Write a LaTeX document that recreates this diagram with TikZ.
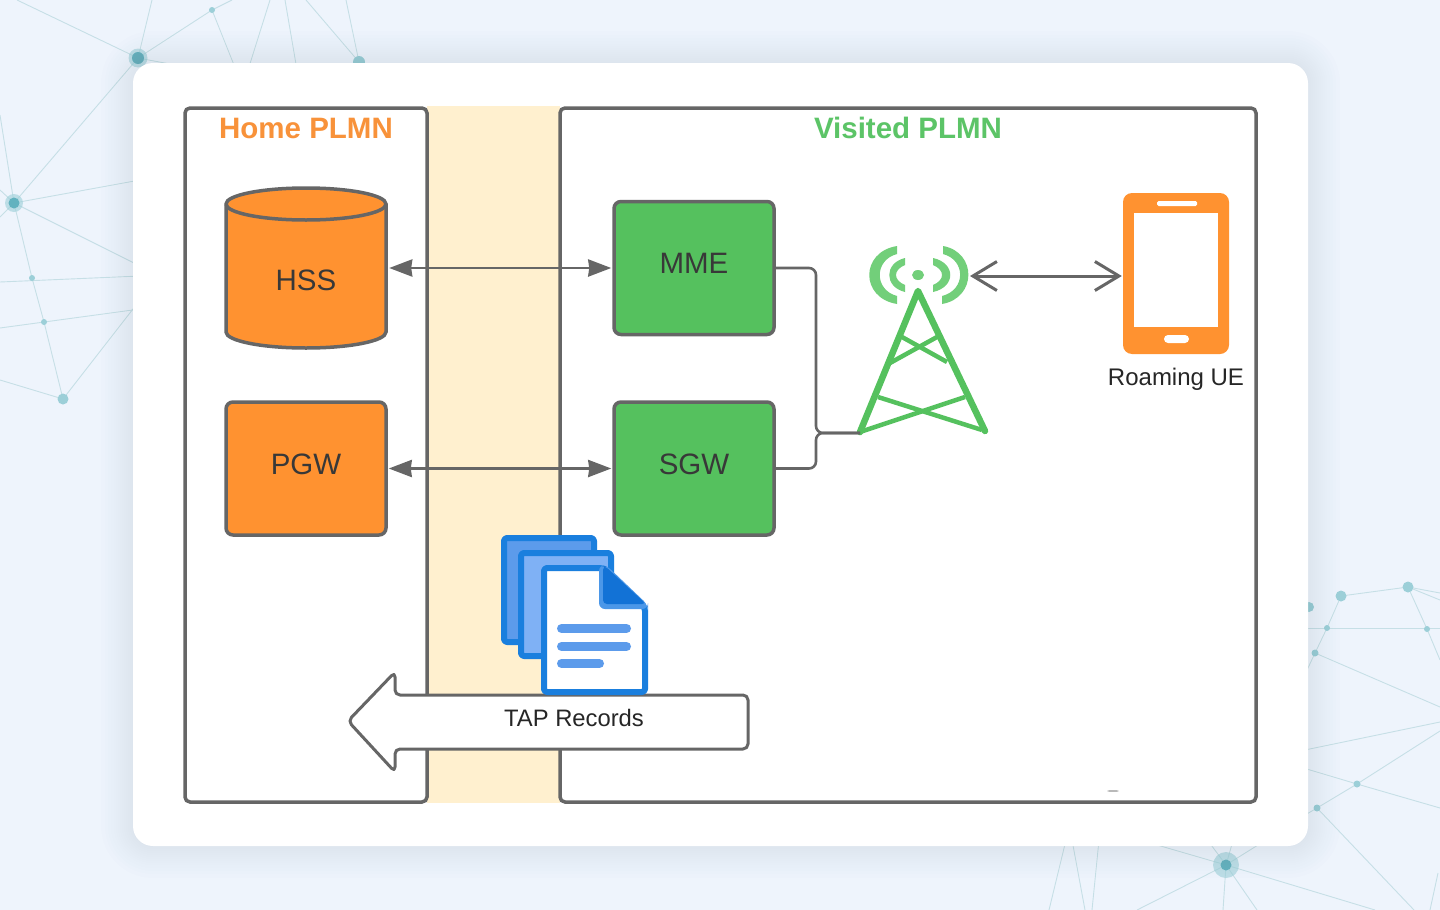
\documentclass[tikz,border=0pt]{standalone}
\usepackage{fontspec}
\setmainfont{Liberation Sans}
\usetikzlibrary{arrows.meta,shapes.geometric}
\definecolor{pagebg}{HTML}{EEF4FC}
\definecolor{meshline}{HTML}{C6DFE6}
\definecolor{meshdot}{HTML}{9CCFD8}
\definecolor{meshcore}{HTML}{62B2BF}
\definecolor{edge}{HTML}{666666}
\definecolor{ink}{HTML}{383838}
\definecolor{orangefill}{HTML}{FF9230}
\definecolor{orangetext}{HTML}{F8923A}
\definecolor{greenfill}{HTML}{55C15E}
\definecolor{greentext}{HTML}{5CC467}
\definecolor{signal}{HTML}{72CF7A}
\definecolor{band}{HTML}{FFF0CF}
\definecolor{docedge}{HTML}{1A7FDE}
\definecolor{docback}{HTML}{5C9BEB}
\definecolor{docmid}{HTML}{7FB1F5}
\definecolor{docfold}{HTML}{1272D6}
\definecolor{docfoldrim}{HTML}{4B97E8}
\definecolor{cardshade}{HTML}{6A7488}
\tikzset{
  mesh/.style={draw=meshline,line width=0.9pt},
  plmn/.style={draw=edge,line width=3.5pt,rounded corners=5pt},
  title/.style={font=\bfseries\fontsize{29.5}{32}\selectfont,anchor=center},
  unitbox/.style={draw=edge,line width=3.5pt,rounded corners=7pt,minimum width=160pt,minimum height=133pt,
    inner sep=0pt,text=ink,font=\fontsize{29.5}{32}\selectfont},
  caption/.style={text=black!85,font=\fontsize{24}{28}\selectfont,inner sep=0pt},
  link/.style={draw=edge,line width=2.8pt,{Stealth[length=23pt,width=17pt,inset=1pt]}-{Stealth[length=23pt,width=17pt,inset=1pt]}},
  wire/.style={draw=edge,line width=2.6pt,rounded corners=7pt},
  radio/.style={draw=edge,line width=3pt,{Straight Barb[length=24pt,width=29pt]}-{Straight Barb[length=24pt,width=29pt]}},
  mast/.style={draw=greenfill,line width=6.5pt,line cap=round,line join=round},
  brace/.style={draw=greenfill,line width=4.5pt},
  sheet/.style={draw=docedge,line width=6pt,rounded corners=3pt,line join=round},
  docline/.style={draw=docback,line width=9pt,line cap=round}
}
\begin{document}
\begin{tikzpicture}[x=1pt,y=-1pt]
\useasboundingbox (0,0) rectangle (1440,910);
\fill[pagebg] (0,0) rectangle (1440,910);

% mesh decoration, upper left
\foreach \ax/\ay/\bx/\by in {
  17/0/138/58, 152/0/138/58, 138/58/212/10, 212/10/232/0, 212/10/236/70, 138/58/170/64,
  138/58/14/203, 14/203/0/115, 14/203/140/180, 14/203/140/266, 14/203/0/190, 14/203/0/217,
  14/203/32/278, 32/278/44/322, 44/322/63/399, 0/282/140/276, 0/328/140/309, 63/399/140/300,
  63/399/0/380, 270/0/248/70, 285/0/297/70, 306/0/359/62, 346/0/359/62}
  {\draw[mesh] (\ax,\ay) -- (\bx,\by);}
% mesh decoration, lower right
\foreach \ax/\ay/\bx/\by in {
  1341/596/1408/587, 1408/587/1440/600, 1408/587/1440/593, 1408/587/1427/629, 1427/629/1440/660,
  1341/596/1327/628, 1327/628/1315/653, 1315/653/1300/685, 1300/628/1440/628, 1315/653/1440/707,
  1300/751/1440/722, 1300/767/1357/784, 1357/784/1440/808, 1357/784/1440/731, 1357/784/1317/808,
  1317/808/1300/818, 1317/808/1414/910, 1226/865/1140/840, 1226/865/1200/830, 1226/865/1236/830,
  1226/865/1266/840, 1226/865/1137/910, 1226/865/1223/910, 1226/865/1257/910, 1226/865/1375/910,
  1066/840/1049/910, 1072/840/1085/910, 1099/840/1092/910, 1438/873/1430/910}
  {\draw[mesh] (\ax,\ay) -- (\bx,\by);}

% mesh dots: large hubs
\foreach \x/\y/\r/\c in {138/58/9.5/6, 14/203/9/5.5, 1226/865/13/5.5}{
  \fill[meshdot,opacity=.6] (\x,\y) circle (\r);
  \fill[meshcore] (\x,\y) circle (\c);
}
% mesh dots: plain
\foreach \x/\y/\r in {212/10/3, 359/62/6, 32/278/3, 44/322/3, 63/399/5.5, 1341/596/5.5, 1408/587/5.5,
  1327/628/3, 1427/629/3, 1315/653/3.5, 1357/784/3.5, 1317/808/3.5, 1309/607/5}{
  \fill[meshdot] (\x,\y) circle (\r);
}

% soft shadow under the card, densest next to its edge
\foreach \d in {32,28,25,22,19,17,15,13,11,9,7,5,3,1}{
  \fill[cardshade,opacity=.008,rounded corners=20pt+\d*1pt]
    (133-\d,63-\d) rectangle (1308+\d,846+\d);
}
% card
\fill[white,rounded corners=20pt] (133,63) rectangle (1308,846);

% interconnect band and the two networks
\fill[band] (427,106) rectangle (560,803);
\draw[plmn] (185,108) rectangle (427,802);
\draw[plmn] (560,108) rectangle (1256,802);
\node[title,text=orangetext] (hometitle) at (306,128) {Home PLMN};
\node[title,text=greentext] (visitedtitle) at (908,128) {Visited PLMN};

% HSS database
\draw[fill=orangefill,draw=edge,line width=3.5pt]
  (226,204) -- (226,332) arc[start angle=180,end angle=0,x radius=80,y radius=16]
  -- (386,204) arc[start angle=0,end angle=-180,x radius=80,y radius=16] -- cycle;
\draw[draw=edge,line width=3.5pt] (226,204) arc[start angle=180,end angle=0,x radius=80,y radius=16];
\node[minimum width=162pt,minimum height=160pt,inner sep=0pt] (hss) at (306,268) {};
\node[inner sep=0pt,text=ink,font=\fontsize{29.5}{32}\selectfont] (hsslabel) at (306,280) {HSS};

% core elements
\node[unitbox,fill=orangefill] (pgw) at (306,468.5) {\raisebox{9pt}{PGW}};
\node[unitbox,fill=greenfill] (mme) at (694,268) {\raisebox{9pt}{MME}};
\node[unitbox,fill=greenfill] (sgw) at (694,468.5) {\raisebox{9pt}{SGW}};

% roaming links across the band
\draw[link] ([xshift=2pt]hss.east) -- ([xshift=-1pt]mme.west);
\draw[link] ([xshift=1pt]pgw.east) -- ([xshift=-1pt]sgw.west);

% radio tower
\coordinate (apex) at (918,291);
\coordinate (footl) at (860,432);
\coordinate (footr) at (985,431);
\coordinate (bus) at (816,433);
\coordinate (antenna) at (970,276);
\draw[mast] (footl) -- (apex) -- (footr);
\draw[brace] (902,337) -- (947,362);
\draw[brace] (937,337) -- (890,363);
\draw[brace] (878,397) -- (982,430);
\draw[brace] (965,397) -- (860,432);
\fill[signal] (918,275) ellipse (6 and 5);
\fill[signal] (897,246) .. controls (860,252) and (860,298) .. (897,304)
  -- (897,296) .. controls (874,290) and (874,260) .. (897,254) -- cycle;
\fill[signal] (905,258) .. controls (884,263) and (884,287) .. (905,292)
  -- (905,285) .. controls (893,280) and (893,270) .. (905,265) -- cycle;
\fill[signal] (943,246) .. controls (977,252) and (977,298) .. (942,304)
  -- (942,296) .. controls (966,290) and (966,260) .. (943,254) -- cycle;
\fill[signal] (933,258) .. controls (956,263) and (956,287) .. (933,292)
  -- (933,285) .. controls (945,280) and (945,270) .. (933,265) -- cycle;

% backhaul from MME and SGW to the tower
\draw[wire] (mme.east) -| (bus) -- (footl |- bus);
\draw[wire] (sgw.east) -| (bus) -- (footl |- bus);

% handset
\node[fill=orangefill,rounded corners=9pt,minimum width=106pt,minimum height=161pt,inner sep=0pt] (phone) at (1176,273.5) {};
\fill[white] (1134,213) rectangle (1218,327);
\fill[white,rounded corners=1.5pt] (1157,201) rectangle (1197,206);
\fill[white,rounded corners=4pt] (1164,335) rectangle (1189,343);
\node[caption] (ue) at (1176,379) {Roaming UE};
\draw[radio] (antenna) -- ([xshift=-1pt]phone.west |- antenna);

% TAP record transfer arrow
\node[inner sep=0pt,minimum size=0pt] (tapanchor) at (574,718) {};
\draw[draw=edge,fill=white,line width=3pt,rounded corners=5pt,line join=round]
  (748,695) -- (395,695) -- (395,672) -- (348,721) -- (395,772) -- (395,749) -- (748,749) -- cycle;
\node[text=black!85,font=\fontsize{23.8}{26}\selectfont,inner sep=0pt] (tap) at (tapanchor) {TAP Records};

% stack of record sheets
\draw[sheet,fill=docback] (504,538) rectangle (594,642);
\draw[sheet,fill=docmid] (521,553) rectangle (611,656);
\draw[sheet,fill=white] (544,568) -- (603,568) -- (645,608) -- (645,692) -- (544,692) -- cycle;
\fill[docfoldrim,rounded corners=6pt] (599,565) -- (599,609) -- (648,609) -- (648,605) -- (606,565) -- cycle;
\fill[docfold,rounded corners=4pt] (603,566) -- (603,604) -- (646,604) -- (605,566) -- cycle;
\draw[docline] (561.5,628.5) -- (626.5,628.5);
\draw[docline] (561.5,646.5) -- (626.5,646.5);
\draw[docline] (561.5,663.5) -- (599.5,663.5);

% faint mark above the lower border
\fill[edge!70] (1113,791) ellipse (6 and .7);
\end{tikzpicture}
\end{document}
